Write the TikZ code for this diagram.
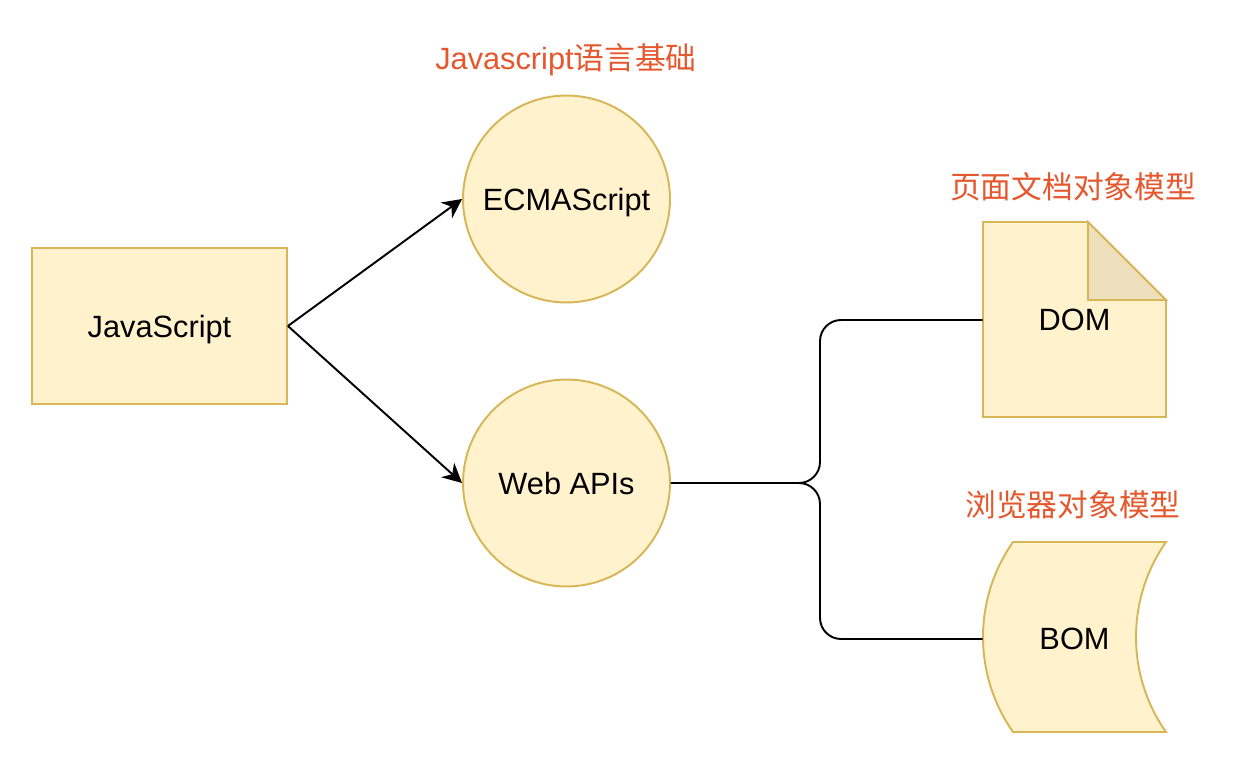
\documentclass[tikz,border=0pt]{standalone}
\usepackage{fontspec}
\setmainfont{Liberation Sans}
\newfontfamily\cjk{Noto Sans CJK SC}
\usetikzlibrary{arrows.meta}
\definecolor{boxfill}{HTML}{FFF2CC}
\definecolor{boxline}{HTML}{D6B656}
\definecolor{foldfill}{HTML}{EEE0BC}
\definecolor{tagred}{HTML}{E5572D}
\tikzset{
  box/.style={draw=boxline,fill=boxfill,line width=1.1pt},
  blob/.style={box,circle,minimum size=4.14cm,inner sep=0pt},
  txt/.style={font=\fontsize{17.5}{21}\selectfont,text depth=0pt},
  tag/.style={txt,text=tagred},
  link/.style={line width=1.1pt},
  arr/.style={link,-{Stealth[length=11pt,width=11pt,inset=3.5pt]}},
}

\begin{document}
\begin{tikzpicture}[x=0.02cm,y=-0.02cm]
\useasboundingbox (0,0) rectangle (1240,760);

\node[box,txt,minimum width=5.1cm,minimum height=3.12cm] (js) at (159.5,326) {JavaScript};
\node[blob,txt] (ecma) at (566.5,199) {ECMAScript};
\node[blob,txt] (webapi) at (566.5,483) {Web APIs};

\draw[box] (983,222) -- (1088,222) -- (1166,300) -- (1166,417) -- (983,417) -- cycle;
\draw[box,fill=foldfill] (1088,222) -- (1088,300) -- (1166,300) -- cycle;
\node[txt,minimum width=3.66cm,minimum height=3.9cm] (dom) at (1074.5,320) {DOM};

\draw[box] (1013,542) -- (1166,542) .. controls (1126,599) and (1126,675) .. (1166,732)
  -- (1013,732) .. controls (973,675) and (973,599) .. (1013,542) -- cycle;
\node[txt,minimum width=3.66cm,minimum height=3.8cm] (bom) at (1074.5,639) {BOM};

\node[tag] (tagecma) at (566,57) {Javascript{\cjk 语言基础}};
\node[tag] (tagdom) at (1073,185) {\cjk 页面文档对象模型};
\node[tag] (tagbom) at (1073,504) {\cjk 浏览器对象模型};

\draw[arr] (js.east) -- (ecma.west);
\draw[arr] (js.east) -- (webapi.west);
\draw[link,rounded corners=12pt] (webapi.east) -- (820,483) |- (dom.west);
\draw[link,rounded corners=12pt] (webapi.east) -- (820,483) |- (bom.west);
\end{tikzpicture}
\end{document}
